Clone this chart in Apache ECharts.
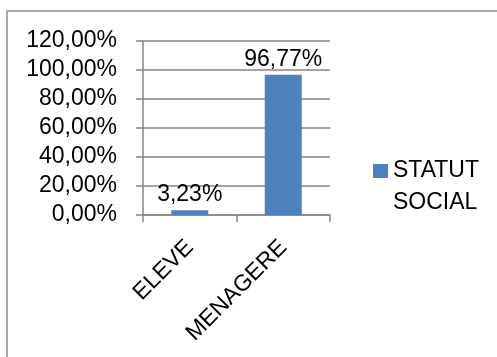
<!DOCTYPE html>
<html>
<head>
<meta charset="utf-8">
<script src="https://cdn.jsdelivr.net/npm/echarts@6/dist/echarts.min.js"></script>
<style>
  html, body { margin: 0; padding: 0; background: #fff; }
  #chart { width: 497px; height: 357px; }
</style>
</head>
<body>
<div id="chart"></div>
<script>
// Social status breakdown (percent)
const categories = ['ELEVE', 'MENAGERE'];
const seriesName = 'STATUT SOCIAL';
const values = [3.23, 96.77];
const yTicks = [0, 20, 40, 60, 80, 100, 120];

const FONT = 'Liberation Sans';
const FS = 23;
const fmtPct = v => v.toFixed(2).replace('.', ',') + '%';

const chart = echarts.init(document.getElementById('chart'), null, { renderer: 'canvas' });
chart.setOption({
  animation: false,
  backgroundColor: '#fff',
  textStyle: { fontFamily: FONT },
  graphic: [{
    type: 'rect',
    shape: { x: 7, y: 11, width: 520, height: 400 },
    style: { fill: 'none', stroke: '#8c8c8c', lineWidth: 1.5 },
    silent: true,
    z: -1
  }],
  grid: { left: 143, top: 41, right: 167, bottom: 142, containLabel: false },
  legend: {
    left: 373, top: 123,
    padding: 0,
    orient: 'vertical',
    itemWidth: 15, itemHeight: 14,
    icon: 'rect',
    // blank first line keeps the swatch level with the first word
    formatter: n => '\n' + n.replace(' ', '\n'),
    textStyle: { fontFamily: FONT, fontSize: FS, color: '#000', lineHeight: 32 },
    data: [seriesName]
  },
  xAxis: {
    type: 'category',
    data: categories,
    axisLine: { lineStyle: { color: '#868686', width: 1.5 } },
    axisTick: { show: true, length: 7, lineStyle: { color: '#868686', width: 1.5 } },
    axisLabel: { rotate: 45, margin: 29, fontFamily: FONT, fontSize: FS, color: '#000' }
  },
  yAxis: {
    type: 'value',
    min: yTicks[0], max: yTicks[yTicks.length - 1], interval: 20,
    axisLine: { show: true, lineStyle: { color: '#868686', width: 1.5 } },
    axisTick: { show: true, length: 7, lineStyle: { color: '#868686', width: 1.5 } },
    splitLine: { lineStyle: { color: '#868686', width: 1.5 } },
    axisLabel: { margin: 26, fontFamily: FONT, fontSize: FS, color: '#000', formatter: v => fmtPct(v) }
  },
  series: [{
    name: seriesName,
    type: 'bar',
    data: values,
    barWidth: 37,
    itemStyle: { color: '#4F81BD' },
    label: {
      show: true, position: 'top', distance: 4,
      fontFamily: FONT, fontSize: FS, color: '#000',
      formatter: p => fmtPct(p.value)
    }
  }]
});
</script>
</body>
</html>
